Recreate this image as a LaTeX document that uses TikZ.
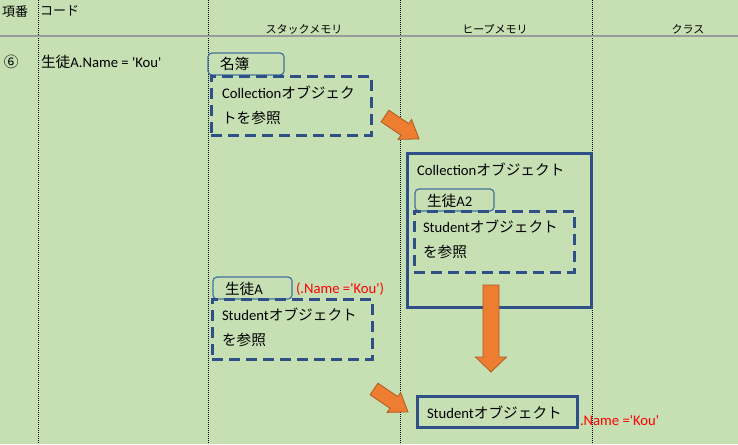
\documentclass[tikz,border=0pt]{standalone}
\usepackage{fontspec}
\setmainfont{Carlito}[Ligatures=TeXOff]
\newfontfamily\jp{Noto Sans CJK JP}
\definecolor{bg}{HTML}{C6E0B4}
\definecolor{navy}{HTML}{2E5086}
\definecolor{namec}{HTML}{41719C}
\definecolor{orangef}{HTML}{ED7D31}
\definecolor{oranged}{HTML}{AE5A21}
\definecolor{redc}{HTML}{FF0000}
\definecolor{gridgray}{HTML}{9A9A9A}
\begin{document}
\begin{tikzpicture}[x=1pt,y=-1pt,
  every node/.style={inner sep=0pt, outer sep=0pt},
  body/.style={font=\fontsize{14.67pt}{24.5pt}\selectfont},
  hdr/.style={font=\jp\fontsize{13pt}{15pt}\selectfont},
  coltitle/.style={font=\jp\fontsize{11pt}{13pt}\selectfont},
  namebox/.style={draw=namec, line width=1.2pt, rounded corners=4pt, anchor=north west},
  refbox/.style={draw=navy, line width=3pt, dash pattern=on 11pt off 6pt, anchor=north west},
  objbox/.style={draw=navy, line width=3pt, anchor=north west},
  redtxt/.style={text=redc, font=\fontsize{14.67pt}{16pt}\selectfont},
  blockarrow/.style={fill=orangef, draw=oranged, line width=0.8pt, line join=miter},
  colline/.style={line width=0.9pt, dash pattern=on 0.9pt off 1.1pt},
  rowline/.style={draw=gridgray, line width=1.2pt}
]
\fill[bg] (0,0) rectangle (738,444);
\useasboundingbox (0,0) rectangle (738,444);

% grid
\draw[colline] (38,0) -- (38,444);
\draw[colline] (208,0) -- (208,444);
\draw[colline] (400,0) -- (400,444);
\draw[colline] (592,0) -- (592,444);
\draw[rowline] (0,36) -- (738,36);

% headers
\node[hdr, anchor=west] (h1) at (2,12) {項番};
\node[hdr, anchor=west] (h2) at (40,11) {コード};
\node[coltitle] (h3) at (304,29) {スタックメモリ};
\node[coltitle] (h4) at (495,29) {ヒープメモリ};
\node[coltitle] (h5) at (688,29) {クラス};

% row
\node[body, anchor=west] (no) at (4,62) {\jp ⑥};
\node[body, anchor=west] (code) at (41,62) {{\jp 生徒}A.Name = 'Kou'};

% stack: 名簿
\node[namebox, minimum width=76pt, minimum height=22pt] (meibo) at (208,53) {};
\node[body, anchor=west] (meibot) at (220,64) {\jp 名簿};
\node[refbox, minimum width=160pt, minimum height=59pt] (ref1) at (211,76) {};
\node[body, anchor=north west, align=left] (ref1t) at (222,86) {Collection{\jp オブジェク}\\{\jp トを参照}};

% stack: 生徒A
\node[namebox, minimum width=79pt, minimum height=22pt] (seitoa) at (213,277) {};
\node[body, anchor=west] (seitoat) at (225,289) {{\jp 生徒}A};
\node[redtxt, anchor=west] (red1) at (296,289) {(.Name ='Kou')};
\node[refbox, minimum width=160pt, minimum height=60pt] (ref3) at (212,299) {};
\node[body, anchor=north west, align=left] (ref3t) at (222,308) {Student{\jp オブジェクト}\\{\jp を参照}};

% heap: collection object
\node[objbox, minimum width=184pt, minimum height=154pt] (coll) at (407,153) {};
\node[body, anchor=west] (collt) at (417,170) {Collection{\jp オブジェクト}};
\node[namebox, minimum width=79pt, minimum height=22pt] (seitoa2) at (415,189) {};
\node[body, anchor=west] (seitoa2t) at (427,201) {{\jp 生徒}A2};
\node[refbox, minimum width=160pt, minimum height=61pt] (ref2) at (414,211) {};
\node[body, anchor=north west, align=left] (ref2t) at (423,220) {Student{\jp オブジェクト}\\{\jp を参照}};

% heap: student object
\node[objbox, minimum width=160pt, minimum height=31pt] (stud) at (417,396) {};
\node[body, anchor=west] (studt) at (427,413) {Student{\jp オブジェクト}};
\node[redtxt, anchor=west] (red2) at (580,421) {.Name ='Kou'};

% block arrows
\begin{scope}[shift={(385,116)}, rotate=-34]
  \draw[blockarrow] (0,-7) -- (24,-7) -- (24,-12) -- (41,0) -- (24,12) -- (24,7) -- (0,7) -- cycle;
\end{scope}
\begin{scope}[shift={(374,389)}, rotate=-34]
  \draw[blockarrow] (0,-7) -- (24,-7) -- (24,-12) -- (41,0) -- (24,12) -- (24,7) -- (0,7) -- cycle;
\end{scope}
\begin{scope}[shift={(491,285)}, rotate=-90]
  \draw[blockarrow] (0,-8) -- (72,-8) -- (72,-15.5) -- (87,0) -- (72,15.5) -- (72,8) -- (0,8) -- cycle;
\end{scope}
\end{tikzpicture}
\end{document}
